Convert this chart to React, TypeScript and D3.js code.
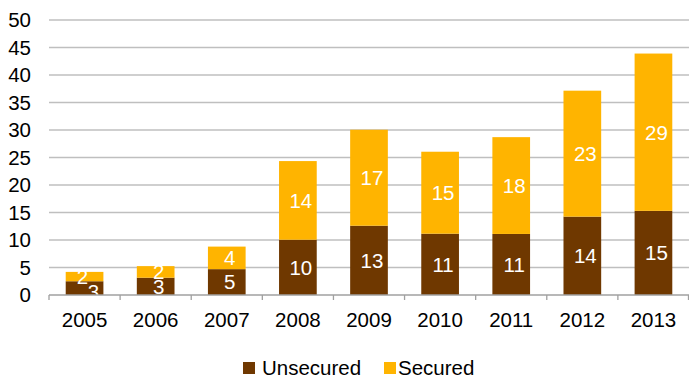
import React from "react";
import * as d3 from "d3";

const years = ["2005", "2006", "2007", "2008", "2009", "2010", "2011", "2012", "2013"];
const unsecured = [2.5, 3.15, 4.7, 10.05, 12.6, 11.15, 11.1, 14.25, 15.3];
const secured = [1.7, 2.1, 4.1, 14.3, 17.45, 14.9, 17.6, 22.9, 28.6];
const unsecuredLabels = ["3", "3", "5", "10", "13", "11", "11", "14", "15"];
const securedLabels = ["2", "2", "4", "14", "17", "15", "18", "23", "29"];
const yTicks = [0, 5, 10, 15, 20, 25, 30, 35, 40, 45, 50];
const legendItems = ["Unsecured", "Secured"];

const W = 689, H = 376;
const left = 49, right = 689, top = 20, bottom = 295;
const BROWN = "#6F3800";
const GOLD = "#FFB400";
const FONT = "'Liberation Sans', Arial, sans-serif";
const FS = 20.5;

export default function App() {
  const x = d3.scaleBand<string>().domain(years).range([left, right]).paddingInner(0.47).paddingOuter(0.235);
  const xb = d3.scaleBand<string>().domain(years).range([left, right]);
  const y = d3.scaleLinear().domain([0, 50]).range([bottom, top]);
  const bw = x.bandwidth();
  const legendColors = [BROWN, GOLD];
  const legendX = [243, 384];
  return (
    <svg width={W} height={H} style={{ position: "absolute", left: 0, top: 0 }} fontFamily={FONT}>
      {yTicks.map((t) => (
        <g key={t}>
          {t > 0 && <line x1={left} x2={right} y1={y(t)} y2={y(t)} stroke="#BFBFBF" strokeWidth={1.3} />}
          <text x={31} y={y(t)} dy="0.35em" textAnchor="end" fontSize={FS} fill="#000">{t}</text>
        </g>
      ))}
      {years.map((yr, i) => {
        const x0 = x(yr)!;
        const u = unsecured[i], s = secured[i];
        return (
          <g key={yr}>
            <rect x={x0} width={bw} y={y(u)} height={y(0) - y(u)} fill={BROWN} />
            <rect x={x0} width={bw} y={y(u + s)} height={y(u) - y(u + s)} fill={GOLD} />
            <text x={x0 + bw / 2 + (i === 0 ? 9 : 3)} y={(y(0) + y(u)) / 2 + (i === 0 ? 3 : 0)} dy="0.36em" textAnchor="middle" fontSize={FS} fill="#fff">{unsecuredLabels[i]}</text>
            <text x={x0 + bw / 2 + (i === 0 ? -2 : 3)} y={(y(u) + y(u + s)) / 2} dy="0.36em" textAnchor="middle" fontSize={FS} fill="#fff">{securedLabels[i]}</text>
            <text x={x0 + bw / 2} y={327.3} textAnchor="middle" fontSize={FS} fill="#000">{yr}</text>
          </g>
        );
      })}
      <line x1={left} x2={right} y1={bottom} y2={bottom} stroke="#A0A0A0" strokeWidth={1.3} />
      {years.map((yr) => (
        <line key={"t" + yr} x1={xb(yr)!} x2={xb(yr)!} y1={bottom} y2={bottom + 5} stroke="#A0A0A0" strokeWidth={1.3} />
      ))}
      <line x1={right - 0.5} x2={right - 0.5} y1={bottom} y2={bottom + 5} stroke="#A0A0A0" strokeWidth={1.3} />
      {legendItems.map((name, i) => (
        <g key={name}>
          <rect x={legendX[i]} y={362} width={12} height={12} fill={legendColors[i]} />
          <text x={legendX[i] + (i === 0 ? 19 : 14)} y={375} fontSize={FS} fill="#000">{name}</text>
        </g>
      ))}
    </svg>
  );
}
